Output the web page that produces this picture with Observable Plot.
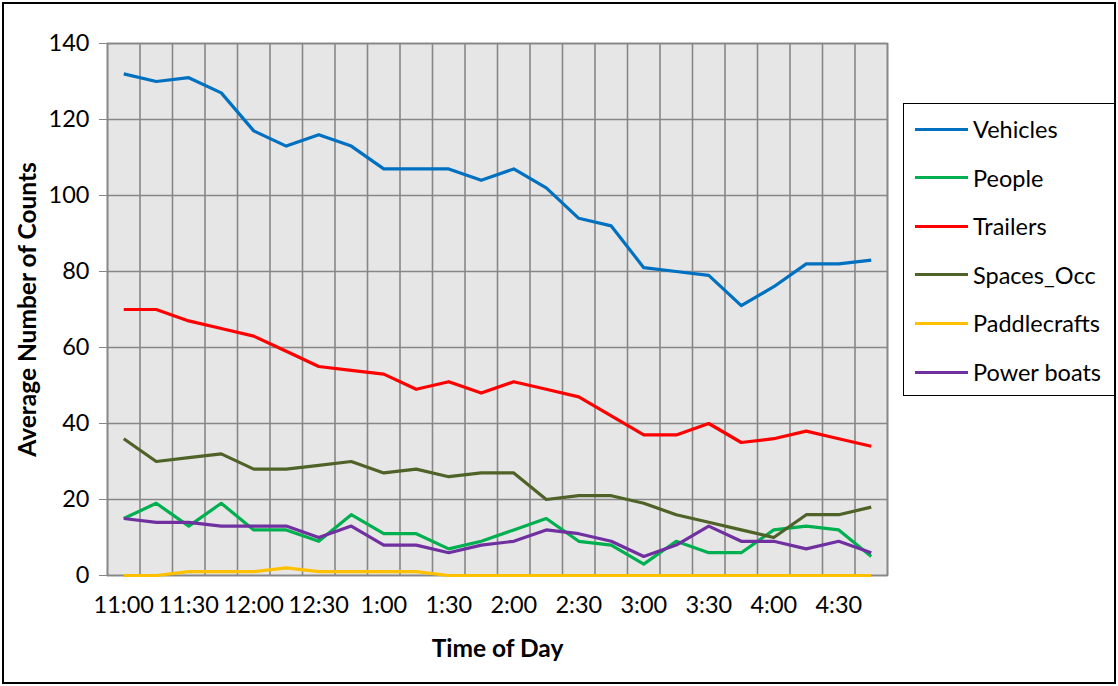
<!DOCTYPE html>
<html>
<head>
<meta charset="utf-8">
<script src="https://cdn.jsdelivr.net/npm/d3@7"></script>
<script src="https://cdn.jsdelivr.net/npm/@observablehq/plot@0.6"></script>
<style>
  body { margin: 0; background: #fff; font-family: Lato, "Open Sans", sans-serif; }
  #wrap { position: relative; width: 1118px; height: 686px; }
  #border { position: absolute; left: 2px; top: 2px; width: 1114px; height: 682px; box-sizing: border-box; border: 2px solid #000; pointer-events: none; }
  #legend { position: absolute; left: 903px; top: 103px; width: 212px; height: 293px; box-sizing: border-box; border: 1.5px solid #000; background: #fff; }
  .row { position: absolute; left: 0; height: 30px; display: flex; align-items: center; }
  .sw { width: 53px; height: 3px; margin-left: 11px; margin-right: 5px; }
  .lt { font-size: 23.5px; color: #000; white-space: nowrap; }
</style>
</head>
<body>
<div id="wrap">
  <div id="chart"></div>
  <div id="legend"></div>
  <div id="border"></div>
</div>
<script>
const times = ["11:00","11:15","11:30","11:45","12:00","12:15","12:30","12:45",
  "1:00","1:15","1:30","1:45","2:00","2:15","2:30","2:45",
  "3:00","3:15","3:30","3:45","4:00","4:15","4:30","4:45"];
const vehicles    = [132,130,131,127,117,113,116,113,107,107,107,104,107,102,94,92,81,80,79,71,76,82,82,83];
const people      = [15,19,13,19,12,12,9,16,11,11,7,9,12,15,9,8,3,9,6,6,12,13,12,5];
const trailers    = [70,70,67,65,63,59,55,54,53,49,51,48,51,49,47,42,37,37,40,35,36,38,36,34];
const spacesOcc   = [36,30,31,32,28,28,29,30,27,28,26,27,27,20,21,21,19,16,14,12,10,16,16,18];
const paddlecrafts= [0,0,1,1,1,2,1,1,1,1,0,0,0,0,0,0,0,0,0,0,0,0,0,0];
const powerBoats  = [15,14,14,13,13,13,10,13,8,8,6,8,9,12,11,9,5,8,13,9,9,7,9,6];
const seriesNames = ["Vehicles","People","Trailers","Spaces_Occ","Paddlecrafts","Power boats"];
const seriesValues = [vehicles, people, trailers, spacesOcc, paddlecrafts, powerBoats];
const seriesColors = ["#0070C0","#00B050","#FF0000","#4F6228","#FFC000","#7030A0"];
const yTicks = [0,20,40,60,80,100,120,140];

const rows = [];
seriesNames.forEach((name, s) => {
  seriesValues[s].forEach((v, i) => rows.push({series: name, i, value: v}));
});
const gridX = d3.range(times.length + 1).map(k => k - 0.5);
const labelIdx = d3.range(0, times.length, 2);

const chart = Plot.plot({
  width: 1118,
  height: 686,
  marginLeft: 107,
  marginRight: 231,
  marginTop: 43,
  marginBottom: 111,
  style: {fontFamily: "Lato, 'Open Sans', sans-serif", background: "transparent"},
  x: {type: "linear", domain: [-0.5, times.length - 0.5]},
  y: {domain: [0, 140]},
  color: {domain: seriesNames, range: seriesColors},
  marks: [
    Plot.frame({fill: "#E6E6E6", stroke: null}),
    Plot.ruleX(gridX, {stroke: "#878787", strokeWidth: 1.6}),
    Plot.ruleY(yTicks, {stroke: "#878787", strokeWidth: 1.6}),
    Plot.frame({stroke: "#878787", strokeWidth: 1.6}),
    Plot.axisY({ticks: yTicks, tickSize: 8, tickPadding: 10, fontSize: 23.5, fill: "#000", stroke: "#878787", label: null}),
    Plot.axisX({ticks: labelIdx, tickFormat: i => times[i], tickSize: 0, tickPadding: 21, fontSize: 23.5, fill: "#000", label: null}),
    Plot.line(rows, {x: "i", y: "value", z: "series", stroke: "series", strokeWidth: 3.2, strokeLinejoin: "round", strokeLinecap: "butt"}),
    Plot.text(["Average Number of Counts"], {frameAnchor: "left", dx: -79, rotate: -90, textAnchor: "middle", lineAnchor: "middle", fontWeight: "bold", fontSize: 24.5, fill: "#000"}),
    Plot.text(["Time of Day"], {frameAnchor: "bottom", dy: 74, textAnchor: "middle", lineAnchor: "middle", fontWeight: "bold", fontSize: 24.5, fill: "#000"})
  ]
});
document.getElementById("chart").appendChild(chart);

const legend = document.getElementById("legend");
seriesNames.forEach((name, s) => {
  const row = document.createElement("div");
  row.className = "row";
  row.style.top = (10 + s * 48.6) + "px";
  const sw = document.createElement("div");
  sw.className = "sw";
  sw.style.background = seriesColors[s];
  const t = document.createElement("span");
  t.className = "lt";
  t.textContent = name;
  row.appendChild(sw);
  row.appendChild(t);
  legend.appendChild(row);
});
</script>
</body>
</html>
